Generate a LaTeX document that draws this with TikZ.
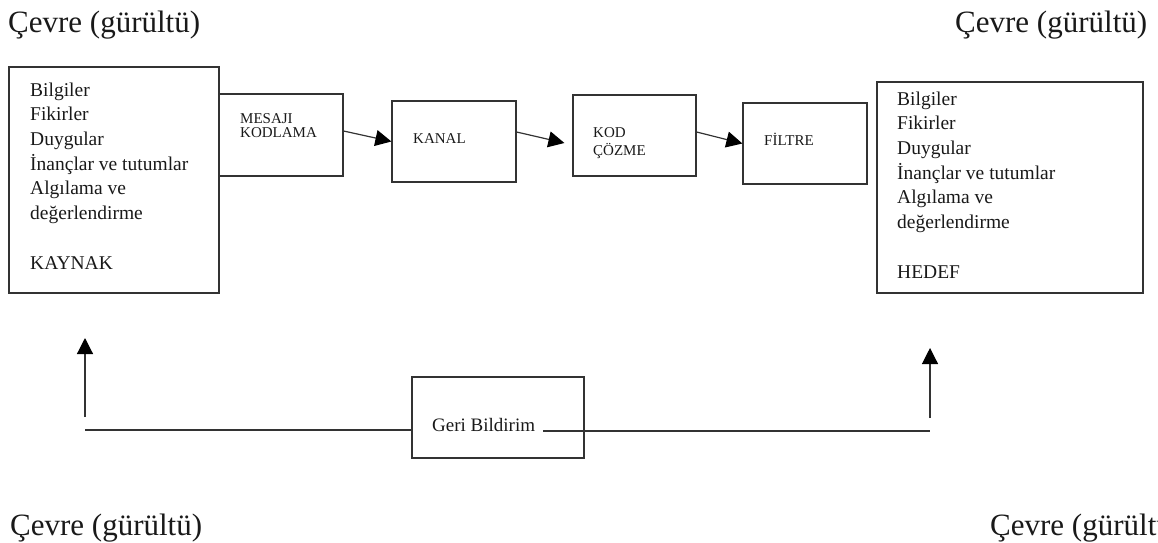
\documentclass[tikz,border=0pt]{standalone}
\usepackage{fontspec}
\newfontfamily\bodyfont{Liberation Serif}
\usetikzlibrary{arrows.meta}

\tikzset{
  box/.style={draw=black!80, line width=1.2pt, inner sep=0pt},
  txt/.style={inner sep=0pt, anchor=base west, align=left, text=black!90},
  big/.style={txt, font=\bodyfont\fontsize{31}{36}\selectfont},
  list/.style={txt, font=\bodyfont\fontsize{19.5}{24.7}\selectfont},
  small/.style={txt, font=\bodyfont\fontsize{15}{14}\selectfont},
  line/.style={draw=black!80, line width=1.2pt},
  arr/.style={line, -{Triangle[length=16pt,width=16pt,color=black]}},
}

\begin{document}
\begin{tikzpicture}[x=1pt,y=-1pt]
    \useasboundingbox (0,0) rectangle (1158,542);

    % Environment labels
    \node[big] (cevreA) at (8,32)    {Çevre (gürültü)};
    \node[big] (cevreB) at (955,32)  {Çevre (gürültü)};
    \node[big] (cevreC) at (10,535)  {Çevre (gürültü)};
    \node[big] (cevreD) at (990,535) {Çevre (gürültü)};

    % Boxes:
    \node[box, minimum width=210pt, minimum height=226pt] (kaynak) at (114,180)    {};
    \node[box, minimum width=124pt, minimum height=82pt]  (mesaj)  at (281,135)    {};
    \node[box, minimum width=124pt, minimum height=81pt]  (kanal)  at (454,141.5)  {};
    \node[box, minimum width=123pt, minimum height=81pt]  (kod)    at (634.5,135.5) {};
    \node[box, minimum width=124pt, minimum height=81pt]  (filtre) at (805,143.5)  {};
    \node[box, minimum width=266pt, minimum height=211pt] (hedef)  at (1010,187.5) {};
    \node[box, minimum width=172pt, minimum height=81pt]  (geri)   at (498,417.5)  {};

    % Box texts (placed at the baseline of their last line):
    \node[list] (kaynaktxt) at (30,269) {Bilgiler\\Fikirler\\Duygular\\İnançlar ve tutumlar\\Algılama ve\\değerlendirme\\[24.7pt]KAYNAK};
    \node[list] (hedeftxt) at (897,278) {Bilgiler\\Fikirler\\Duygular\\İnançlar ve tutumlar\\Algılama ve\\değerlendirme\\[24.7pt]HEDEF};
    \node[small] (mesajtxt)  at (240,137) {MESAJI\\KODLAMA};
    \node[small] (kanaltxt)  at (413,143) {KANAL};
    \node[small, font=\bodyfont\fontsize{15}{18}\selectfont] (kodtxt) at (593,155) {KOD\\ÇÖZME};
    \node[small] (filtretxt) at (764,145) {FİLTRE};
    \node[list, font=\bodyfont\fontsize{19}{22}\selectfont] (geritxt) at (432,431) {Geri Bildirim};

    % Message flow
    \draw[arr] ([yshift=4pt]mesaj.east) -- (kanal.west);
    \draw[arr] ([yshift=9.5pt]kanal.east) -- ([xshift=-8pt,yshift=-7.5pt]kod.west);
    \draw[arr] ([yshift=3.5pt]kod.east) -- (filtre.west);

    % Feedback
    \coordinate (kfoot) at (85,430);
    \coordinate (ktip)  at (85,338);
    \coordinate (hfoot) at (930,430);
    \coordinate (htip)  at (930,348);

    \draw[line] (kfoot) -- (kfoot -| geri.west);
    \draw[line] ([xshift=8pt]geritxt.base east) -- (geritxt.base east -| hfoot);
    \draw[arr] ([yshift=13pt]kfoot) -- (ktip);
    \draw[arr] ([yshift=12pt]hfoot) -- (htip);
\end{tikzpicture}
\end{document}
